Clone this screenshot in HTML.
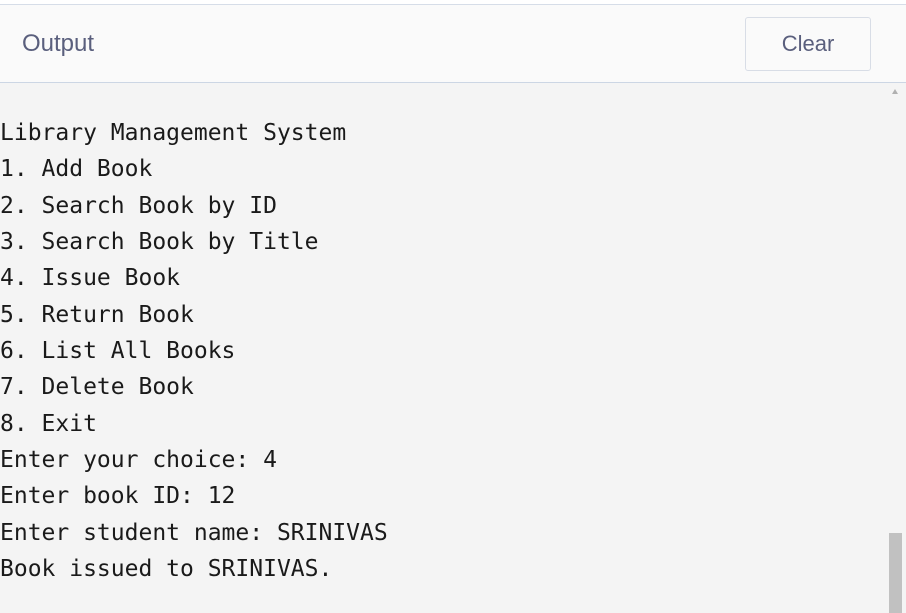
<!DOCTYPE html>
<html><head><meta charset="utf-8"><style>
html,body{margin:0;padding:0;width:906px;height:613px;overflow:hidden;background:#f4f4f4;position:relative}
.top{position:absolute;left:0;top:0;width:906px;height:4px;background:#fff;border-bottom:1px solid #d6dde8}
.hdr{position:absolute;left:0;top:5px;width:906px;height:77px;background:#fafafa;border-bottom:1px solid #ccd6e4}
.title{position:absolute;left:22px;top:25px;font:24px "Liberation Sans",sans-serif;color:#5a5f7d}
.btn{position:absolute;left:745px;top:12px;width:124px;height:52px;border:1px solid #d8dde6;border-radius:3px;background:#fafafa;font:22px "Liberation Sans",sans-serif;color:#5a5f7d;text-align:center;line-height:52px}
pre{position:absolute;left:0;top:115px;margin:0;font:23px "DejaVu Sans Mono","Liberation Mono",monospace;line-height:36.33px;color:#1a1a1a}
.thumb{position:absolute;left:889px;top:533px;width:13px;height:80px;background:#c1c1c1}
.arr{position:absolute;left:892px;top:89px;width:0;height:0;border-left:3px solid transparent;border-right:3px solid transparent;border-bottom:5px solid #b0b0b0}
</style></head><body>
<div class="top"></div>
<div class="hdr"><div class="title">Output</div><div class="btn">Clear</div></div>
<div class="arr"></div>
<pre>Library Management System
1. Add Book
2. Search Book by ID
3. Search Book by Title
4. Issue Book
5. Return Book
6. List All Books
7. Delete Book
8. Exit
Enter your choice: 4
Enter book ID: 12
Enter student name: SRINIVAS
Book issued to SRINIVAS.</pre>
<div class="thumb"></div>
</body></html>
